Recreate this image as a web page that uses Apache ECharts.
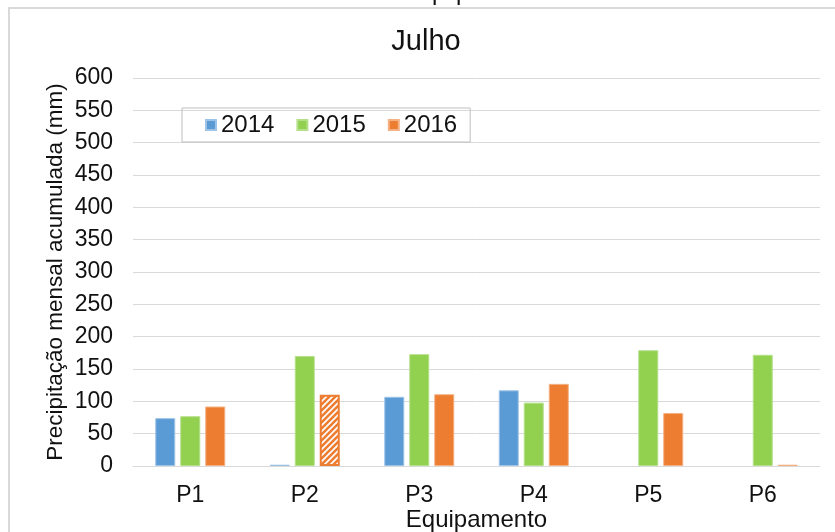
<!DOCTYPE html>
<html>
<head>
<meta charset="utf-8">
<script src="https://cdn.jsdelivr.net/npm/echarts@6/dist/echarts.min.js"></script>
<style>
html,body{margin:0;padding:0;background:#fff;overflow:hidden;}
#chart{width:835px;height:532px;}
</style>
</head>
<body>
<div id="chart"></div>
<script>
const titleText = 'Julho';
const categories = ['P1', 'P2', 'P3', 'P4', 'P5', 'P6'];
const seriesNames = ['2014', '2015', '2016'];
const v2014 = [74, 2, 107, 117, null, null];
const v2015 = [77, 170, 173, 98, 179, 172];
const v2016 = [92, 110, 111, 127, 82, 2];
const hatchedIndex2016 = 1; // P2 2016 drawn hatched
const yTicks = { min: 0, max: 600, interval: 50 };
const yName = 'Precipitação mensal acumulada (mm)';
const xName = 'Equipamento';

const FONT = 'Liberation Sans, Arial, sans-serif';
const colors = ['#5B9BD5', '#92D050', '#ED7D31'];
const borders = ['#9DC3E6', '#B5E08A', '#F4B183'];

function hatchPattern() {
  const c = document.createElement('canvas');
  c.width = 6; c.height = 6;
  const g = c.getContext('2d');
  g.fillStyle = '#ffffff';
  g.fillRect(0, 0, 6, 6);
  g.strokeStyle = '#ED7D31';
  g.lineWidth = 2.6;
  g.beginPath();
  g.moveTo(-1, 7); g.lineTo(7, -1);
  g.moveTo(-4, 4); g.lineTo(4, -4);
  g.moveTo(2, 10); g.lineTo(10, 2);
  g.stroke();
  return c;
}

const data2016 = v2016.map((v, i) => i === hatchedIndex2016
  ? { value: v, itemStyle: { color: { image: hatchPattern(), repeat: 'repeat' }, borderColor: '#ED7D31', borderWidth: 2 } }
  : v);

const chart = echarts.init(document.getElementById('chart'), null, { renderer: 'canvas', width: 835, height: 532 });
const textColor = '#111111';

chart.setOption({
  animation: false,
  backgroundColor: '#ffffff',
  title: {
    text: titleText,
    left: 421, top: 22, textAlign: 'center',
    textStyle: { fontFamily: FONT, fontSize: 29, fontWeight: 'normal', color: textColor }
  },
  legend: {
    data: seriesNames,
    left: 182, top: 108,
    orient: 'horizontal',
    itemWidth: 10, itemHeight: 10, itemGap: 22,
    icon: 'rect',
    padding: [5, 13, 5, 23],
    borderColor: '#bfbfbf', borderWidth: 1,
    textStyle: { fontFamily: FONT, fontSize: 24, color: textColor }
  },
  grid: { left: 133, top: 78, width: 687, height: 388, containLabel: false, outerBoundsMode: 'none' },
  xAxis: {
    type: 'category',
    data: categories,
    name: xName,
    nameLocation: 'middle',
    nameGap: 42,
    nameMoveOverlap: false,
    nameTextStyle: { fontFamily: FONT, fontSize: 24, color: textColor },
    axisLine: { lineStyle: { color: '#d9d9d9', width: 1 } },
    axisTick: { show: false },
    axisLabel: { fontFamily: FONT, fontSize: 23, color: textColor, margin: 18 }
  },
  yAxis: {
    type: 'value',
    min: yTicks.min, max: yTicks.max, interval: yTicks.interval,
    name: yName,
    nameLocation: 'middle',
    nameGap: 66,
    nameMoveOverlap: false,
    nameTextStyle: { fontFamily: FONT, fontSize: 22.5, color: textColor },
    axisLine: { show: false },
    axisTick: { show: false },
    splitLine: { lineStyle: { color: '#d9d9d9', width: 1 } },
    axisLabel: { fontFamily: FONT, fontSize: 23, color: textColor, margin: 20 }
  },
  series: [
    { name: seriesNames[0], type: 'bar', data: v2014, barWidth: 20, barGap: '25%',
      itemStyle: { color: colors[0], borderColor: borders[0], borderWidth: 1 } },
    { name: seriesNames[1], type: 'bar', data: v2015, barWidth: 20, barGap: '25%',
      itemStyle: { color: colors[1], borderColor: borders[1], borderWidth: 1 } },
    { name: seriesNames[2], type: 'bar', data: data2016, barWidth: 20, barGap: '25%',
      itemStyle: { color: colors[2], borderColor: borders[2], borderWidth: 1 } }
  ],
  graphic: [
    { type: 'line', shape: { x1: 8, y1: 8, x2: 835, y2: 8 }, style: { stroke: '#d9d9d9', lineWidth: 2 }, silent: true },
    { type: 'line', shape: { x1: 9, y1: 8, x2: 9, y2: 532 }, style: { stroke: '#d9d9d9', lineWidth: 2 }, silent: true },
    { type: 'text', left: 408, top: -19, silent: true,
      style: { text: xName, font: '24px ' + FONT, fill: textColor } }
  ]
});
</script>
</body>
</html>
